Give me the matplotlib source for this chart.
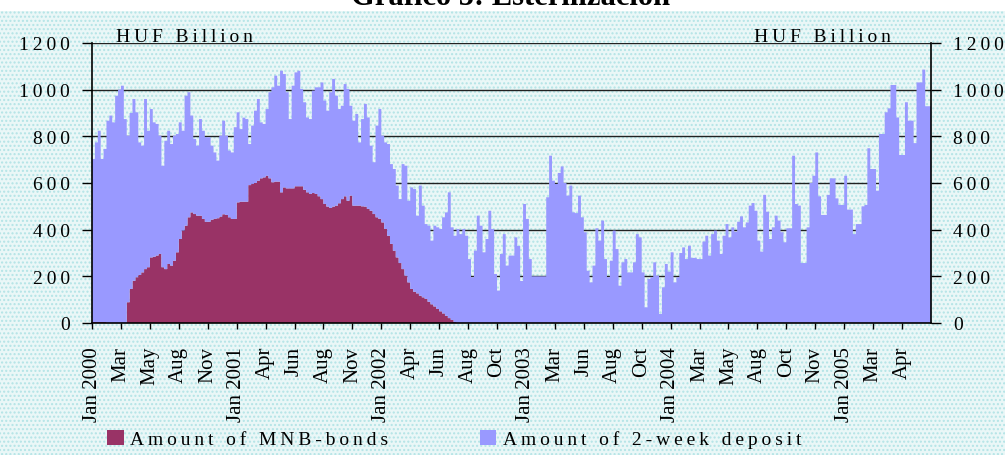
"""
Gráfico 5: Esterilización - MNB-bonds and 2-week deposits (HUF billion)
"""

import numpy as np
import matplotlib.pyplot as plt
from matplotlib.patches import Rectangle, Patch

plt.rcParams['font.family'] = ['Liberation Serif', 'DejaVu Serif']

# top of the stacked areas (bonds + 2-week deposit), one value per period
total = [
    703, 774, 824, 703, 746, 867, 889, 860, 974, 1000,
    1017, 874, 803, 900, 960, 903, 774, 760, 960, 824,
    917, 860, 853, 803, 674, 781, 824, 767, 803, 810,
    860, 824, 974, 989, 889, 789, 760, 874, 824, 796,
    796, 760, 731, 696, 803, 867, 803, 739, 731, 839,
    903, 831, 880, 874, 767, 846, 910, 960, 860, 853,
    917, 989, 1010, 1060, 1017, 1081, 1067, 989, 874, 1017,
    1074, 1081, 1003, 946, 881, 874, 996, 1010, 1010, 1031,
    953, 910, 989, 1046, 974, 917, 931, 1024, 1003, 931,
    867, 896, 774, 874, 939, 881, 760, 689, 846, 917,
    803, 774, 767, 681, 660, 589, 531, 681, 674, 524,
    581, 574, 460, 589, 503, 424, 417, 353, 417, 410,
    403, 453, 474, 560, 410, 374, 403, 381, 403, 374,
    274, 196, 310, 460, 417, 303, 360, 481, 403, 210,
    139, 296, 381, 246, 289, 289, 367, 330, 180, 510,
    446, 274, 200, 200, 200, 200, 200, 539, 717, 610,
    596, 643, 671, 600, 546, 589, 474, 471, 546, 453,
    389, 224, 174, 246, 406, 353, 439, 274, 196, 267,
    396, 317, 160, 260, 274, 217, 217, 260, 381, 367,
    217, 67, 189, 196, 260, 203, 39, 153, 253, 220,
    303, 174, 196, 300, 324, 274, 331, 279, 279, 274,
    274, 349, 374, 289, 381, 396, 353, 296, 374, 424,
    367, 410, 391, 434, 457, 410, 431, 503, 514, 481,
    353, 306, 549, 477, 360, 410, 460, 439, 389, 346,
    406, 406, 717, 510, 503, 257, 257, 410, 600, 631,
    731, 543, 463, 463, 549, 620, 620, 534, 506, 506,
    631, 486, 486, 381, 424, 424, 500, 506, 749, 660,
    660, 567, 810, 810, 903, 920, 1020, 1020, 881, 720,
    720, 946, 867, 867, 771, 1031, 1031, 1086, 929, 929,
]

# amount of MNB-bonds
bonds = [
    4, 4, 4, 4, 4, 0, 0, 0, 0, 0,
    0, 0, 89, 146, 181, 196, 206, 217, 231, 239,
    281, 284, 289, 296, 239, 231, 253, 246, 267, 303,
    360, 396, 417, 453, 474, 467, 460, 460, 446, 434,
    434, 443, 446, 449, 456, 466, 463, 453, 446, 446,
    517, 520, 520, 520, 591, 596, 600, 610, 620, 624,
    631, 620, 603, 606, 606, 560, 581, 577, 577, 577,
    586, 586, 586, 571, 560, 553, 557, 553, 543, 531,
    510, 499, 493, 499, 503, 513, 531, 543, 524, 546,
    503, 503, 503, 500, 499, 489, 481, 467, 453, 446,
    431, 403, 374, 339, 310, 281, 257, 231, 203, 174,
    146, 134, 127, 117, 110, 103, 91, 80, 71, 60,
    50, 41, 31, 21, 13, 4, 0, 0, 0, 0,
    0, 0, 0, 0, 0, 0, 0, 0, 0, 0,
    0, 0, 0, 0, 0, 0, 0, 0, 0, 0,
    0, 0, 0, 0, 0, 0, 0, 0, 0, 0,
    0, 0, 0, 0, 0, 0, 0, 0, 0, 0,
    0, 0, 0, 0, 0, 0, 0, 0, 0, 0,
    0, 0, 0, 0, 0, 0, 0, 0, 0, 0,
    0, 0, 0, 0, 0, 0, 0, 0, 0, 0,
    0, 0, 0, 0, 0, 0, 0, 0, 0, 0,
    0, 0, 0, 0, 0, 0, 0, 0, 0, 0,
    0, 0, 0, 0, 0, 0, 0, 0, 0, 0,
    0, 0, 0, 0, 0, 0, 0, 0, 0, 0,
    0, 0, 0, 0, 0, 0, 0, 0, 0, 0,
    0, 0, 0, 0, 0, 0, 0, 0, 0, 0,
    0, 0, 0, 0, 0, 0, 0, 0, 0, 0,
    0, 0, 0, 0, 0, 0, 0, 0, 0, 0,
    0, 0, 0, 0, 0, 0, 0, 0, 0, 0,
]

tick_labels = ['Jan 2000', 'Mar', 'May', 'Aug', 'Nov',
               'Jan 2001', 'Apr', 'Jun', 'Aug', 'Nov',
               'Jan 2002', 'Apr', 'Jun', 'Aug', 'Oct',
               'Jan 2003', 'Mar', 'Jun', 'Aug', 'Oct',
               'Jan 2004', 'Mar', 'May', 'Aug', 'Oct', 'Nov',
               'Jan 2005', 'Mar', 'Apr']
tick_every = 10
y_ticks = [0, 200, 400, 600, 800, 1000, 1200]

MAROON = '#993366'
PERIWINKLE = '#9999ff'


def spaced(s):
    """Excel-like letter spacing"""
    return '\u2009'.join(s)


def main():
    bonds_a = np.array(bonds, dtype=float)
    deposit = np.array(total, dtype=float) - bonds_a
    n = len(total)
    x = np.arange(n + 1)
    b_ext = np.append(bonds_a, bonds_a[-1])
    d_ext = np.append(deposit, deposit[-1])

    fig = plt.figure(figsize=(10.05, 4.56), dpi=100)
    fig.patch.set_facecolor('white')
    # dotted light-cyan backdrop
    bg = Rectangle((0, 0), 1, 1 - 12 / 456, transform=fig.transFigure,
                   facecolor='#eaf7f7', edgecolor='#b3e4e6', hatch='....',
                   lw=0, zorder=-10)
    fig.patches.append(bg)

    ax = fig.add_axes([92 / 1005, 1 - 324 / 456, 839 / 1005, 280 / 456])
    ax.set_facecolor('none')
    ax.stackplot(x, b_ext, d_ext, colors=[MAROON, PERIWINKLE], step='post',
                 linewidth=0)

    ax.set_xlim(0, n)
    ax.set_ylim(0, 1200)
    ax.set_axisbelow(True)
    ax.yaxis.grid(True, color='#222222', lw=1.0)

    ax.set_yticks(y_ticks, labels=[spaced(str(v)) for v in y_ticks])
    ax.set_xticks(np.arange(0, n, tick_every), labels=tick_labels,
                  rotation=90, va='top', ha='center')
    ax.tick_params(axis='y', which='both', left=True, right=True,
                   labelleft=True, labelright=True, direction='out',
                   length=7, width=1, pad=9, labelsize=14)
    ax.tick_params(axis='x', direction='out', length=4.5, width=1, pad=12,
                   labelsize=15)
    for side in ['left', 'right', 'bottom']:
        ax.spines[side].set_color('black')
        ax.spines[side].set_linewidth(1.2)
    ax.spines['top'].set_visible(False)

    # title is clipped by the top edge, as in the source image
    fig.text(0.508, 1 - 5 / 456, 'Gráfico 5: Esterilización', ha='center',
             va='baseline', fontsize=22, fontweight='bold')
    fig.text(116 / 1005, 1 - 42 / 456, spaced('HUF Billion'), fontsize=14,
             va='baseline')
    fig.text(891 / 1005, 1 - 42 / 456, spaced('HUF Billion'), fontsize=14,
             va='baseline', ha='right')

    handles = [Patch(facecolor=MAROON), Patch(facecolor=PERIWINKLE)]
    labels = [spaced('Amount of MNB-bonds'), spaced('Amount of 2-week deposit')]
    fig.legend(handles, labels, loc='center left', ncol=2, frameon=False,
               bbox_to_anchor=(107 / 1005, 1 - 440 / 456), borderpad=0,
               borderaxespad=0, handlelength=0.85, handleheight=0.85,
               handletextpad=0.35, columnspacing=4.7, fontsize=14)

    fig.savefig('out.png', dpi=100, facecolor=fig.get_facecolor())


if __name__ == "__main__":
    main()
